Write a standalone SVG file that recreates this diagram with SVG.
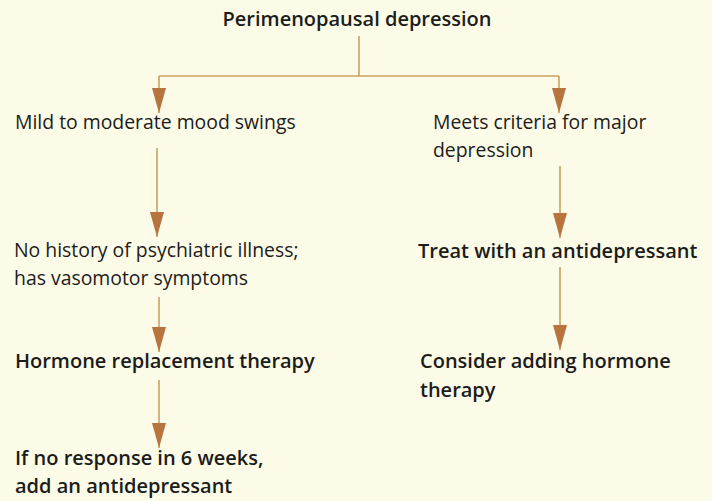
<svg xmlns="http://www.w3.org/2000/svg" width="712" height="501" viewBox="0 0 712 501">
<style>
text{font-family:"Open Sans","Noto Sans","DejaVu Sans",sans-serif;fill:#1c1c1a;font-size:19.4px}
.b{font-weight:600;font-size:20px}
.t{font-weight:600;font-size:20px}
.ln{stroke:#C9A262;stroke-width:1.6;fill:none}
</style>
<defs>
<marker id="ah" markerUnits="userSpaceOnUse" markerWidth="25" markerHeight="14" viewBox="0 -7 25 14" refX="25" refY="0" orient="auto">
<path d="M0,-7 L25,0 L0,7 Z" fill="#B8743F"/>
</marker>
</defs>
<rect width="712" height="501" fill="#FBFBE7"/>
<g id="connectors" class="ln">
<path d="M359,36 V76"/>
<path d="M159,76 H559"/>
<path d="M159,76 V113" marker-end="url(#ah)"/>
<path d="M559,76 V113" marker-end="url(#ah)"/>
<path d="M157,148 V237" marker-end="url(#ah)"/>
<path d="M560,166 V238" marker-end="url(#ah)"/>
<path d="M159,297 V352" marker-end="url(#ah)"/>
<path d="M560,267 V350" marker-end="url(#ah)"/>
<path d="M159,380 V448" marker-end="url(#ah)"/>
</g>
<g id="n-title"><text class="t" x="357" y="26" text-anchor="middle">Perimenopausal depression</text></g>
<g id="n-mild"><text x="15" y="129">Mild to moderate mood swings</text></g>
<g id="n-major"><text x="433" y="129">Meets criteria for major</text><text x="433" y="157">depression</text></g>
<g id="n-nohistory"><text x="14" y="257">No history of psychiatric illness;</text><text x="14" y="285">has vasomotor symptoms</text></g>
<g id="n-treat"><text class="b" x="418" y="258">Treat with an antidepressant</text></g>
<g id="n-hrt"><text class="b" x="15" y="368">Hormone replacement therapy</text></g>
<g id="n-consider"><text class="b" x="420" y="368">Consider adding hormone</text><text class="b" x="420" y="397">therapy</text></g>
<g id="n-noresponse"><text class="b" x="15" y="465">If no response in 6 weeks,</text><text class="b" x="15" y="493">add an antidepressant</text></g>
</svg>
